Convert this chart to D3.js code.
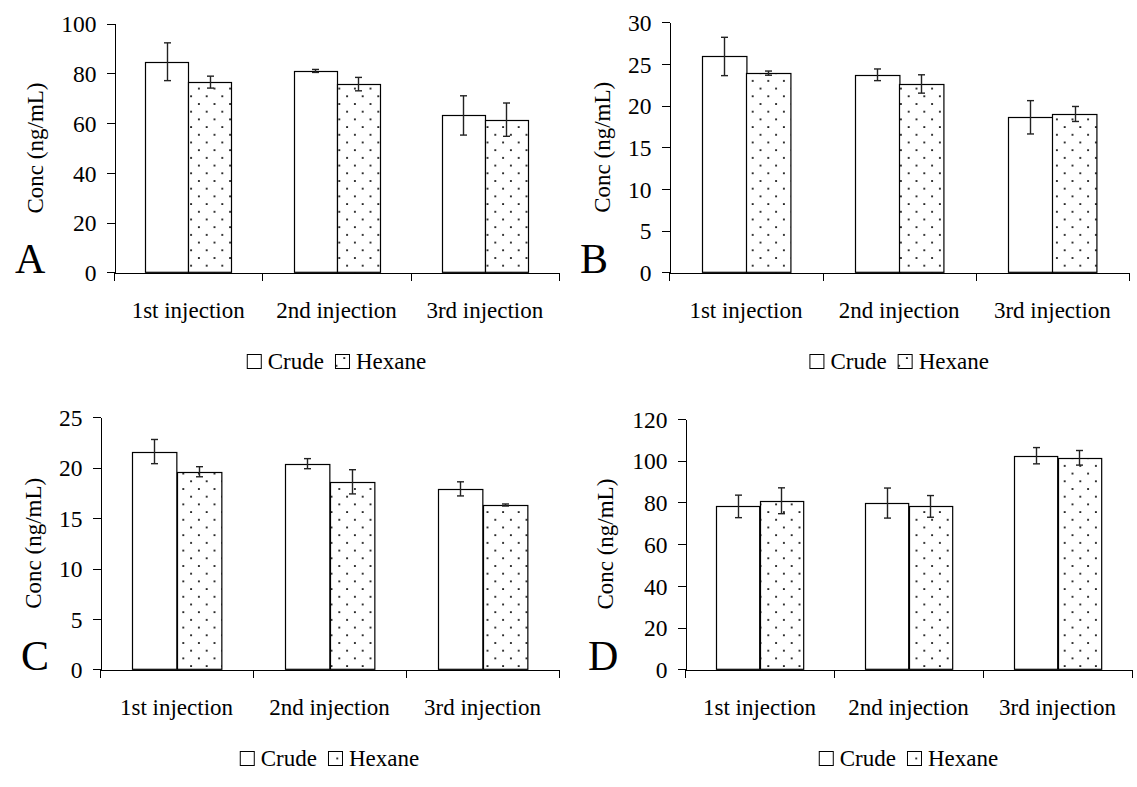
<!DOCTYPE html>
<html>
<head>
<meta charset="utf-8">
<script src="https://cdn.jsdelivr.net/npm/d3@7"></script>
<style>
  body { margin: 0; background: #fff; }
  .axis path, .axis line { stroke: #000; stroke-width: 1; shape-rendering: crispEdges; }
</style>
</head>
<body>
<svg></svg>
<script>
// data
const categories = ["1st injection", "2nd injection", "3rd injection"];
const series = ["Crude", "Hexane"];
const panelLabels = ["A", "B", "C", "D"];

const crudeA = [84.7, 81.0, 63.1];
const crudeAErr = [7.6, 0.6, 7.9];
const hexaneA = [76.5, 75.7, 61.4];
const hexaneAErr = [2.4, 2.7, 6.7];

const crudeB = [25.9, 23.7, 18.6];
const crudeBErr = [2.3, 0.7, 2.0];
const hexaneB = [23.9, 22.6, 19.0];
const hexaneBErr = [0.25, 1.1, 0.9];

const crudeC = [21.6, 20.4, 17.9];
const crudeCErr = [1.2, 0.5, 0.7];
const hexaneC = [19.6, 18.6, 16.3];
const hexaneCErr = [0.5, 1.2, 0.1];

const crudeD = [78.1, 79.7, 102.4];
const crudeDErr = [5.4, 7.2, 3.9];
const hexaneD = [80.8, 78.1, 101.4];
const hexaneDErr = [6.2, 5.2, 3.5];

const ticksA = [0, 20, 40, 60, 80, 100];
const ticksB = [0, 5, 10, 15, 20, 25, 30];
const ticksC = [0, 5, 10, 15, 20, 25];
const ticksD = [0, 20, 40, 60, 80, 100, 120];

const yTitle = "Conc (ng/mL)";

const FONT = "'Liberation Serif', 'Times New Roman', Times, serif";

// layout of the four panels (pixels)
const panels = [
    { label: panelLabels[0], crude: crudeA, crudeErr: crudeAErr, hexane: hexaneA, hexaneErr: hexaneAErr, ticks: ticksA,
      left: 114, right: 559, bottom: 272.3, top: 23.7, titleX: 79, letterX: 15 },
    { label: panelLabels[1], crude: crudeB, crudeErr: crudeBErr, hexane: hexaneB, hexaneErr: hexaneBErr, ticks: ticksB,
      left: 669.3, right: 1129, bottom: 272.3, top: 22.3, titleX: 67, letterX: 580 },
    { label: panelLabels[2], crude: crudeC, crudeErr: crudeCErr, hexane: hexaneC, hexaneErr: hexaneCErr, ticks: ticksC,
      left: 100, right: 559, bottom: 669.3, top: 417.3, titleX: 67, letterX: 21 },
    { label: panelLabels[3], crude: crudeD, crudeErr: crudeDErr, hexane: hexaneD, hexaneErr: hexaneDErr, ticks: ticksD,
      left: 685, right: 1132, bottom: 669.3, top: 419, titleX: 80, letterX: 588 }
];

const svg = d3.select("svg")
    .attr("width", 1137)
    .attr("height", 787)
    .style("font-family", FONT);

// dotted fill for Hexane
const pat = svg.append("defs").append("pattern")
    .attr("id", "dots")
    .attr("patternUnits", "userSpaceOnUse")
    .attr("width", 15.6)
    .attr("height", 15.4);
pat.append("rect").attr("width", 15.6).attr("height", 15.4).attr("fill", "#fff");
pat.append("rect").attr("x", 3).attr("y", 3).attr("width", 1.8).attr("height", 1.8).attr("fill", "#111");
pat.append("rect").attr("x", 10.8).attr("y", 10.7).attr("width", 1.8).attr("height", 1.8).attr("fill", "#111");

const fills = { Crude: "#fff", Hexane: "url(#dots)" };

function drawPanel(p) {
    const g = svg.append("g");

    const y = d3.scaleLinear()
        .domain([0, d3.max(p.ticks)])
        .range([p.bottom, p.top]);

    // category bands
    const x0 = d3.scaleBand()
        .domain(categories)
        .range([p.left, p.right])
        .padding(0);

    const x1 = d3.scaleBand()
        .domain(series)
        .range([0, x0.bandwidth()])
        .paddingInner(0)
        .paddingOuter(0.725);

    // boundary ticks on x axis
    const xb = d3.scaleLinear().domain([0, categories.length]).range([p.left, p.right]);

    const rows = [];
    categories.forEach((c, i) => {
        rows.push({ cat: c, s: "Crude", v: p.crude[i], e: p.crudeErr[i] });
        rows.push({ cat: c, s: "Hexane", v: p.hexane[i], e: p.hexaneErr[i] });
    });

    // bars
    g.selectAll("rect.bar")
        .data(rows)
        .enter().append("rect")
        .attr("class", "bar")
        .attr("x", d => Math.round(x0(d.cat) + x1(d.s)) + 0.5)
        .attr("y", d => Math.round(y(d.v)) + 0.5)
        .attr("width", x1.bandwidth())
        .attr("height", d => y(0) - Math.round(y(d.v)) - 0.5)
        .attr("fill", d => fills[d.s])
        .attr("stroke", "#000")
        .attr("stroke-width", 1.2);

    // error bars
    const eb = g.selectAll("g.err")
        .data(rows)
        .enter().append("g")
        .attr("class", "err")
        .attr("stroke", "#222")
        .attr("stroke-width", 1.4);
    const cx = d => Math.round(x0(d.cat) + x1(d.s) + x1.bandwidth() / 2) + 0.5;
    eb.append("line")
        .attr("x1", cx).attr("x2", cx)
        .attr("y1", d => y(d.v + d.e)).attr("y2", d => y(d.v - d.e));
    eb.append("line")
        .attr("x1", d => cx(d) - 3.5).attr("x2", d => cx(d) + 3.5)
        .attr("y1", d => y(d.v + d.e)).attr("y2", d => y(d.v + d.e));
    eb.append("line")
        .attr("x1", d => cx(d) - 3.5).attr("x2", d => cx(d) + 3.5)
        .attr("y1", d => y(d.v - d.e)).attr("y2", d => y(d.v - d.e));

    // y axis
    const ya = g.append("g")
        .attr("class", "axis")
        .attr("transform", `translate(${Math.round(p.left) + 0.5}, 0)`)
        .call(d3.axisLeft(y).tickValues(p.ticks).tickSize(8).tickSizeOuter(0).tickPadding(10));
    ya.attr("font-family", null).attr("font-size", null);
    ya.selectAll("text")
        .attr("dy", "0.35em")
        .style("font-family", FONT)
        .style("font-size", "23.5px")
        .attr("fill", "#000");

    // x axis
    g.append("g")
        .attr("class", "axis")
        .attr("transform", `translate(0, ${Math.round(p.bottom) + 0.5})`)
        .call(d3.axisBottom(xb).tickValues(d3.range(categories.length + 1)).tickSize(8).tickSizeOuter(0).tickFormat(""));

    // category labels
    g.selectAll("text.cat")
        .data(categories)
        .enter().append("text")
        .attr("class", "cat")
        .attr("x", d => x0(d) + x0.bandwidth() / 2)
        .attr("y", p.bottom + 45.5)
        .attr("text-anchor", "middle")
        .style("font-family", FONT)
        .style("font-size", "23px")
        .text(d => d);

    // y title
    g.append("text")
        .attr("transform", `translate(${p.left - p.titleX}, ${(p.top + p.bottom) / 2}) rotate(-90)`)
        .attr("text-anchor", "middle")
        .attr("dy", "0.35em")
        .style("font-family", FONT)
        .style("font-size", "23px")
        .text(yTitle);

    // panel letter
    g.append("text")
        .attr("x", p.letterX)
        .attr("y", p.bottom + 1)
        .style("font-family", FONT)
        .style("font-size", "42px")
        .text(p.label);

    // legend
    const lg = g.append("g");
    const ly = p.bottom + 89;
    let lx = 0;
    series.forEach((s, i) => {
        lg.append("rect")
            .attr("x", lx + 0.5).attr("y", Math.round(ly - 7) + 0.5)
            .attr("width", 14).attr("height", 14)
            .attr("fill", fills[s])
            .attr("stroke", "#000")
            .attr("stroke-width", 1);
        const t = lg.append("text")
            .attr("x", lx + 21)
            .attr("y", ly)
            .attr("dy", "0.35em")
            .style("font-family", FONT)
            .style("font-size", "23px")
            .text(s);
        lx += 21 + t.node().getComputedTextLength() + 11;
    });
    const lw = lx - 11;
    lg.attr("transform", `translate(${(p.left + p.right) / 2 - lw / 2}, 0)`);
}

panels.forEach(drawPanel);
</script>
</body>
</html>
